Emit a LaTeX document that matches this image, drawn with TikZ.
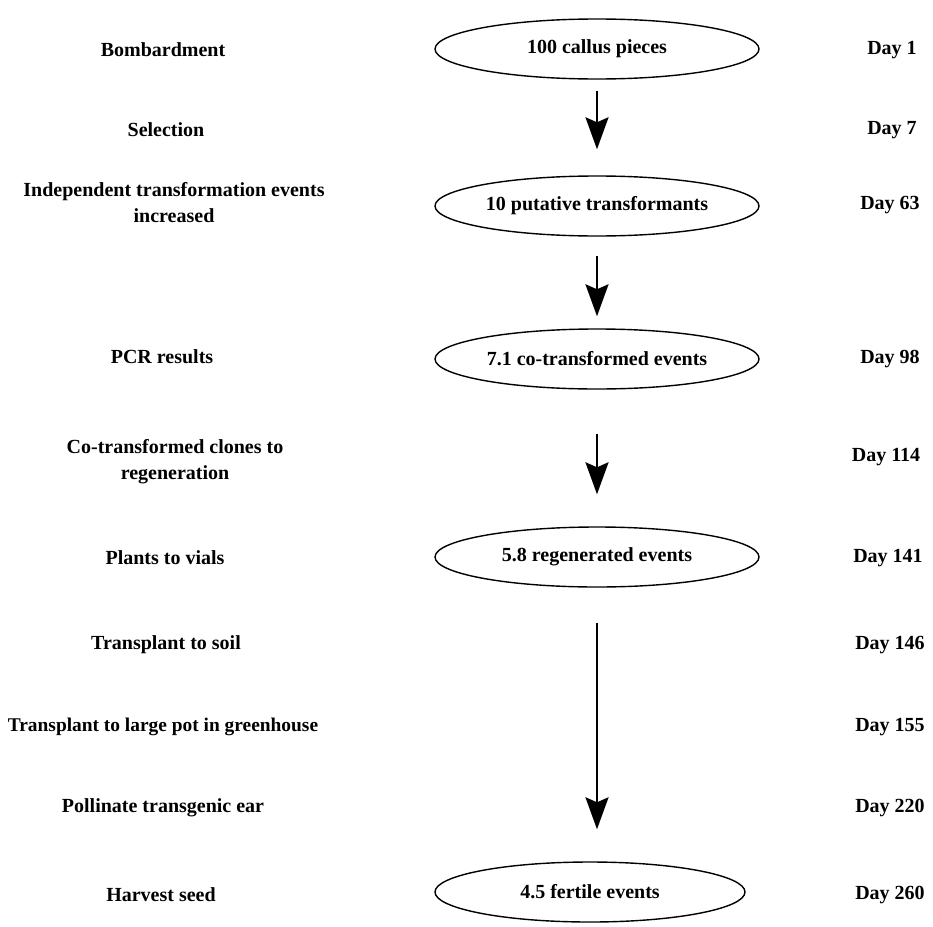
\documentclass[tikz,border=0pt]{standalone}
\usepackage{fontspec}
\setmainfont{Liberation Serif}
\usetikzlibrary{arrows.meta,shapes.geometric}
\tikzset{
  stage/.style={draw=black, ellipse, line width=1.4pt, minimum width=324pt, minimum height=60pt, inner sep=0pt, font=\fontsize{20}{26}\selectfont\bfseries},
  lab/.style={align=center, inner sep=0pt, font=\fontsize{20}{26}\selectfont\bfseries},
  day/.style={inner sep=0pt, font=\fontsize{20}{26}\selectfont\bfseries},
  flow/.style={draw=black, line width=2.2pt, -{Stealth[length=32pt,width=23pt,inset=5pt]}},
}
\begin{document}
\begin{tikzpicture}[x=1pt,y=-1pt]
  \useasboundingbox[fill=white] (0,0) rectangle (933,926);

  % stages in the middle
  \node[stage] (callus)  at (597,49)  {100 callus pieces};
  \node[stage] (putat)   at (597,206) {10 putative transformants};
  \node[stage] (cotrans) at (597,359) {7.1 co-transformed events};
  \node[stage] (regen)   at (597,557) {5.8 regenerated events};
  \node[stage, minimum width=310pt] (fertile) at (590,892) {4.5 fertile events};

  % steps on the left
  \node[lab] (bomb)    at (163,50)  {Bombardment};
  \node[lab] (select)  at (166,130) {Selection};
  \node[lab] (indep)   at (174,203) {Independent transformation events\\increased};
  \node[lab] (pcr)     at (162,357) {PCR results};
  \node[lab] (clones)  at (175,462) {Co-transformed clones to\\regeneration};
  \node[lab] (vials)   at (165,558) {Plants to vials};
  \node[lab] (soil)    at (166,645) {Transplant to soil};
  \node[lab, font=\fontsize{19.4}{26}\selectfont\bfseries] (pot) at (163,727) {Transplant to large pot in greenhouse};
  \node[lab] (pollin)  at (163,808) {Pollinate transgenic ear};
  \node[lab] (harvest) at (161,895) {Harvest seed};

  % days on the right
  \node[day] (d1)   at (892,50)  {Day 1};
  \node[day] (d7)   at (892,130) {Day 7};
  \node[day] (d63)  at (890,205) {Day 63};
  \node[day] (d98)  at (890,359) {Day 98};
  \node[day] (d114) at (886,457) {Day 114};
  \node[day] (d141) at (888,558) {Day 141};
  \node[day] (d146) at (890,645) {Day 146};
  \node[day] (d155) at (890,727) {Day 155};
  \node[day] (d220) at (890,808) {Day 220};
  \node[day] (d260) at (890,895) {Day 260};

  % arrows
  \draw[flow, shorten <=11pt, shorten >=26pt] (callus) -- (putat);
  \draw[flow, shorten <=19pt, shorten >=12pt] (putat.south) -- (putat.south |- cotrans.north);
  \draw[flow, shorten <=44pt, shorten >=32pt] (cotrans.south) -- (cotrans.south |- regen.north);
  \draw[flow, shorten <=35pt, shorten >=32pt] (regen.south) -- (regen.south |- fertile.north);
\end{tikzpicture}
\end{document}
